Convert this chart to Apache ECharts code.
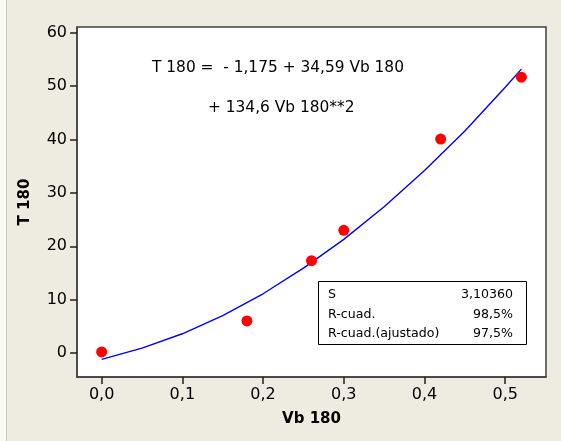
<!DOCTYPE html>
<html><head><meta charset="utf-8">
<script src="https://cdn.jsdelivr.net/npm/echarts@6/dist/echarts.min.js"></script>
<style>
html,body{margin:0;padding:0;background:#EEEBE1;}
#strip{position:absolute;left:0;top:0;width:6px;height:441px;background:#FAFAF7;border-right:1px solid #C8C8C0;}
#c{position:absolute;left:0;top:0;width:561px;height:441px;}
</style></head>
<body><div id="strip"></div><div id="c"></div>
<script>
// Observed points
var vb180 = [0.0, 0.18, 0.26, 0.30, 0.42, 0.52];
var t180 = [0.2, 6.0, 17.3, 23.0, 40.1, 51.7];
// Fitted curve
var fitX = [0.0, 0.05, 0.10, 0.15, 0.20, 0.25, 0.30, 0.35, 0.40, 0.45, 0.50, 0.52];
var fitY = [-1.2, 0.9, 3.6, 7.0, 11.1, 15.9, 21.3, 27.4, 34.2, 41.6, 49.8, 53.2];
var xTicks = [0, 0.1, 0.2, 0.3, 0.4, 0.5];
var yTicks = [0, 10, 20, 30, 40, 50, 60];
var eqLine1 = 'T 180 =  - 1,175 + 34,59 Vb 180';
var eqLine2 = '+ 134,6 Vb 180**2';
var statLabels = ['S', 'R-cuad.', 'R-cuad.(ajustado)'];
var statValues = ['3,10360', '98,5%', '97,5%'];

var font = 'DejaVu Sans';
var chart = echarts.init(document.getElementById('c'), null, {renderer: 'canvas'});
var pts = vb180.map(function (x, i) { return [x, t180[i]]; });
var fit = fitX.map(function (x, i) { return [x, fitY[i]]; });

var graphics = [
  {type: 'text', left: 152, top: 60, style: {text: eqLine1, font: '15.4px "' + font + '"', fill: '#000'}},
  {type: 'text', left: 208, top: 100, style: {text: eqLine2, font: '15.4px "' + font + '"', fill: '#000'}},
  {type: 'rect', shape: {x: 318.5, y: 281.5, width: 208, height: 63}, style: {fill: '#fff', stroke: '#000', lineWidth: 1}, z: 10}
];
statLabels.forEach(function (s, i) {
  graphics.push({type: 'text', x: 328, y: 295 + i * 19.5, z: 11, style: {text: s, font: '12.6px "' + font + '"', fill: '#000', verticalAlign: 'middle', align: 'left'}});
  graphics.push({type: 'text', x: 513, y: 295 + i * 19.5, z: 11, style: {text: statValues[i], font: '12.6px "' + font + '"', fill: '#000', verticalAlign: 'middle', align: 'right'}});
});

chart.setOption({
  animation: false,
  backgroundColor: 'transparent',
  grid: {left: 77, top: 27, right: 15, bottom: 64, show: true, backgroundColor: '#fff', borderColor: '#404040', borderWidth: 1.5},
  xAxis: {
    type: 'value', min: -0.0305, max: 0.5505,
    name: 'Vb 180', nameLocation: 'middle', nameGap: 35,
    nameTextStyle: {fontFamily: font, fontWeight: 'bold', fontSize: 15, color: '#000'},
    axisLine: {show: true, onZero: false, lineStyle: {color: '#404040', width: 1.5}}, splitLine: {show: false},
    axisTick: {show: true, length: 7, lineStyle: {color: '#202020', width: 1.5}, customValues: xTicks},
    axisLabel: {customValues: xTicks, margin: 10, fontFamily: font, fontSize: 16, color: '#000',
      formatter: function (v) { return v.toFixed(1).replace('.', ','); }}
  },
  yAxis: {
    type: 'value', min: -4.5, max: 61.1,
    name: 'T 180', nameLocation: 'middle', nameGap: 44, nameRotate: 90,
    nameTextStyle: {fontFamily: font, fontWeight: 'bold', fontSize: 15, color: '#000'},
    axisLine: {show: true, onZero: false, lineStyle: {color: '#404040', width: 1.5}}, splitLine: {show: false},
    axisTick: {show: true, length: 7, lineStyle: {color: '#202020', width: 1.5}, customValues: yTicks},
    axisLabel: {customValues: yTicks, margin: 10, fontFamily: font, fontSize: 16, color: '#000'}
  },
  series: [
    {type: 'line', data: fit, showSymbol: false, symbol: 'none', lineStyle: {color: '#0000FF', width: 1.4}, z: 2},
    {type: 'scatter', data: pts, symbol: 'circle', symbolSize: 11, itemStyle: {color: '#FF0000', opacity: 1}, z: 3}
  ],
  graphic: graphics
});
</script></body></html>
